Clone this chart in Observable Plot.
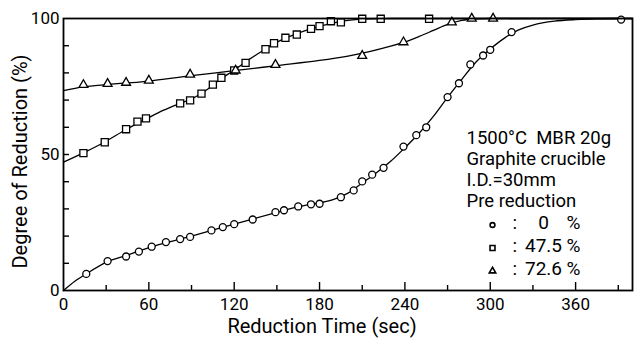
<!DOCTYPE html>
<html><head><meta charset="utf-8">
<script src="https://cdn.jsdelivr.net/npm/d3@7"></script>
<script src="https://cdn.jsdelivr.net/npm/@observablehq/plot@0.6"></script>
<style>html,body{margin:0;padding:0;background:#fff;}</style>
</head><body><div id="chart"></div>
<script>
// Pre reduction 0 %
const time0 = [16, 31, 44, 53, 62, 72, 82, 89, 104, 112, 120, 133, 149, 155, 165, 174, 180, 195, 204, 210, 217, 225, 239, 248, 255, 270, 278, 286, 295, 300, 315, 392];
const red0  = [6.1, 10.8, 12.5, 14.3, 16.1, 17.8, 18.9, 19.7, 22.1, 23.3, 24.4, 26.1, 28.8, 29.5, 30.9, 31.7, 31.9, 34.3, 36.8, 40.1, 42.6, 45.1, 52.9, 57.1, 60.0, 71.1, 76.2, 83.1, 86.4, 88.5, 95.0, 99.6];
// Pre reduction 47.5 %
const time475 = [14, 29, 44, 52, 58, 82, 89, 97, 105, 111, 120, 128, 142, 148, 156, 164, 174, 180, 188, 195, 210, 223, 257];
const red475  = [50.5, 54.5, 59.3, 62.1, 63.3, 68.8, 69.9, 72.4, 75.7, 78.2, 80.9, 83.7, 88.7, 90.9, 92.9, 94.1, 96.2, 97.2, 99.0, 98.6, 99.9, 99.9, 99.9];
// Pre reduction 72.6 %
const time726 = [14, 31, 44, 60, 89, 121, 149, 210, 239, 273, 287, 302];
const red726  = [75.6, 76.0, 76.4, 77.2, 79.4, 80.9, 83.0, 86.3, 91.3, 98.6, 100, 100];

// Drawn smooth curves
const fitTime0 = [0, 8, 16, 31, 45, 60, 90, 120, 150, 165, 180, 190, 200, 210, 220, 230, 240, 250, 260, 270, 280, 290, 300, 310, 320, 330, 345, 360, 375, 392];
const fitRed0  = [0, 3.4, 6.1, 10.6, 13, 15.8, 20, 24.4, 28.7, 30.8, 32.2, 33.5, 35.8, 39.5, 43.3, 47.5, 52.5, 57.8, 64, 71, 77.6, 84, 88.8, 92.8, 95.8, 97.6, 99, 99.6, 99.9, 100];
const fitTime475 = [0, 14, 29, 44, 58, 70, 82, 90, 100, 110, 120, 130, 142, 150, 160, 170, 180, 190, 200, 210, 230, 260, 300, 400];
const fitRed475  = [47.2, 50.6, 54.6, 59.2, 63.0, 66.2, 68.8, 70.4, 73.5, 77.6, 81.0, 84.8, 88.8, 91.3, 93.6, 95.5, 97.1, 98.4, 99.3, 99.8, 100, 100, 100, 100];
const fitTime726 = [0, 14, 30, 45, 60, 90, 120, 150, 180, 200, 215, 230, 240, 250, 260, 270, 280, 290, 300, 400];
const fitRed726  = [73.5, 74.9, 75.7, 76.3, 77.0, 79.0, 80.8, 82.7, 84.6, 86.2, 87.8, 89.8, 91.4, 93.4, 95.6, 97.8, 99.3, 99.9, 100, 100];

const xTickLabels = [0, 60, 120, 180, 240, 300, 360];
const xTicksMajor = [60, 120, 180, 240, 300, 360];
const xTicksMinor = [30, 90, 150, 210, 270, 330, 390];
const yTickLabels = [0, 50, 100];
const yTicksMinor = [10, 20, 30, 40, 50, 60, 70, 80, 90];
const xTitle = "Reduction Time (sec)";
const yTitle = "Degree of Reduction (%)";
const legendHeader = ["1500°C  MBR 20g", "Graphite crucible", "I.D.=30mm", "Pre reduction"];
const preReduction = ["0", "47.5", "72.6"];

const zip = (xs, ys) => xs.map((t, i) => ({t, r: ys[i]}));

const W = 637, H = 338, mL = 63, mR = 5, mT = 18, mB = 48;
const pw = W - mL - mR, ph = H - mT - mB;
const ink = "#000";

const lineOpts = {x: "t", y: "r", curve: "catmull-rom", stroke: ink, strokeWidth: 1.3};
const dotOpts = {x: "t", y: "r", fill: "#fff", stroke: ink, strokeWidth: 1.3};

const headerBaseY = [125, 146, 167, 188];
const legendRowY = [210.5, 233.5, 256.5];

const chart = Plot.plot({
  width: W, height: H,
  marginLeft: mL, marginRight: mR, marginTop: mT, marginBottom: mB,
  x: {domain: [0, 400], label: null},
  y: {domain: [0, 100], label: null},
  style: {fontFamily: "Roboto, sans-serif", fontSize: "17px", color: ink, background: "#fff"},
  marks: [
    Plot.line(zip(fitTime0, fitRed0), lineOpts),
    Plot.line(zip(fitTime475, fitRed475), lineOpts),
    Plot.line(zip(fitTime726, fitRed726), lineOpts),
    Plot.dot(zip(time0, red0), {...dotOpts, symbol: "circle", r: 3.5}),
    Plot.dot(zip(time475, red475), {...dotOpts, symbol: "square", r: 4}),
    Plot.dot(zip(time726, red726), {...dotOpts, symbol: "triangle", r: 3.3}),
    Plot.tickX(xTicksMajor, {x: d => d, insetTop: ph - 8, stroke: ink, strokeWidth: 1.4}),
    Plot.tickX(xTicksMinor, {x: d => d, insetTop: ph - 5, stroke: ink, strokeWidth: 1.4}),
    Plot.tickY(yTicksMinor, {y: d => d, insetRight: pw - 6, stroke: ink, strokeWidth: 1.4}),
    Plot.frame({stroke: ink, strokeWidth: 1.8}),
    Plot.axisX(xTickLabels, {tickSize: 0, tickPadding: 7, fontSize: 17, label: null}),
    Plot.axisY(yTickLabels, {tickSize: 0, tickPadding: 4, fontSize: 17, label: null}),
    Plot.text([xTitle], {frameAnchor: "bottom", textAnchor: "middle", lineAnchor: "bottom", dx: -26, dy: 42, fontSize: 20}),
    Plot.text([yTitle], {frameAnchor: "left", textAnchor: "middle", lineAnchor: "middle", rotate: -90, dx: -43, dy: 7, fontSize: 20}),
    ...legendHeader.map((s, i) => Plot.text([s], {frameAnchor: "top-left", dx: 403, dy: headerBaseY[i], textAnchor: "start", lineAnchor: "bottom", fontSize: 18.5})),
    Plot.dot([0], {frameAnchor: "top-left", dx: 429, dy: legendRowY[0] - 4, symbol: "circle", r: 2.4, fill: "#fff", stroke: ink, strokeWidth: 1.6}),
    Plot.dot([0], {frameAnchor: "top-left", dx: 429, dy: legendRowY[1] - 4, symbol: "square", r: 2.8, fill: "#fff", stroke: ink, strokeWidth: 1.6}),
    Plot.dot([0], {frameAnchor: "top-left", dx: 429, dy: legendRowY[2] - 4, symbol: "triangle", r: 2.4, fill: "#fff", stroke: ink, strokeWidth: 1.6}),
    ...preReduction.map((v, i) => Plot.text([":"], {frameAnchor: "top-left", dx: 449, dy: legendRowY[i], textAnchor: "start", lineAnchor: "bottom", fontSize: 19})),
    ...preReduction.map((v, i) => Plot.text([v], {frameAnchor: "top-left", dx: 480, dy: legendRowY[i], textAnchor: "middle", lineAnchor: "bottom", fontSize: 19})),
    ...preReduction.map((v, i) => Plot.text(["%"], {frameAnchor: "top-left", dx: 503, dy: legendRowY[i], textAnchor: "start", lineAnchor: "bottom", fontSize: 19}))
  ]
});
document.getElementById("chart").append(chart);
</script>
</body></html>
